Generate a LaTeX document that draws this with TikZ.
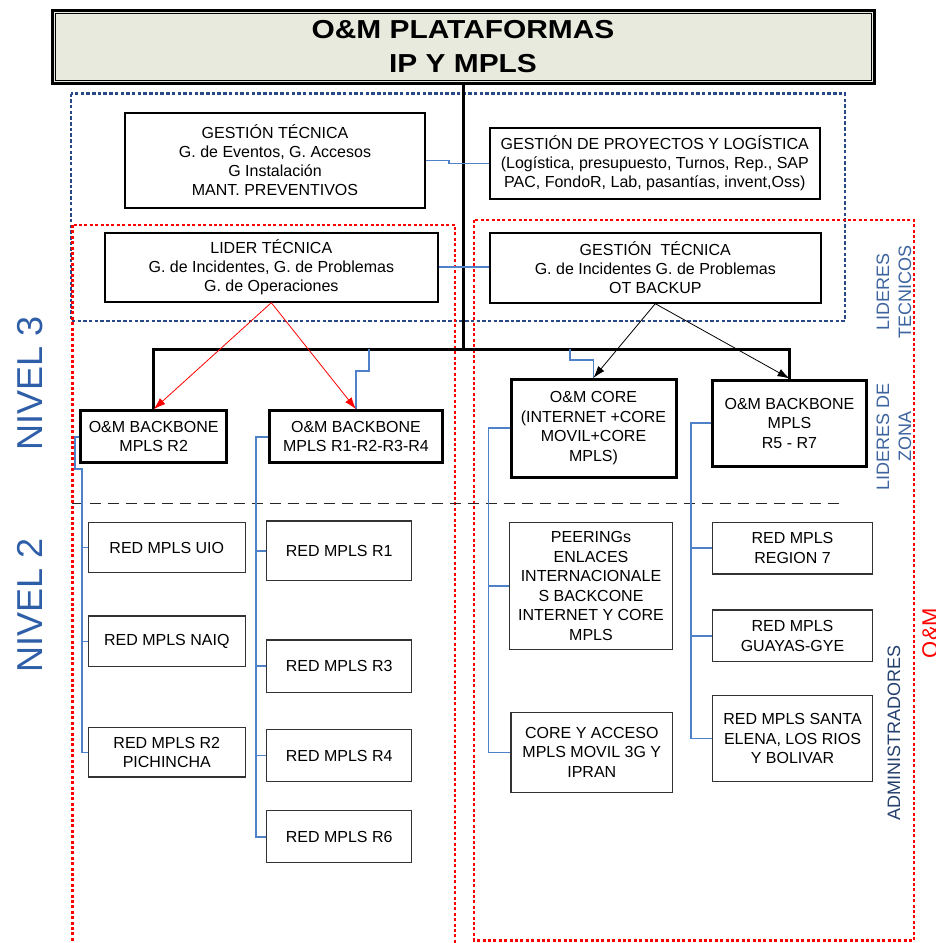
\documentclass[tikz,border=0pt]{standalone}
\usepackage{fontspec}
\setmainfont{Liberation Sans}
\newfontfamily\titlefont[FakeStretch=1.15]{Liberation Sans}
\usetikzlibrary{arrows.meta}

\definecolor{titlefill}{RGB}{233,234,222}
\definecolor{linkblue}{RGB}{79,129,200}
\definecolor{framenavy}{RGB}{40,72,135}
\definecolor{leafgray}{RGB}{50,50,50}
\definecolor{nivelblue}{RGB}{46,94,168}
\definecolor{liderblue}{RGB}{62,100,160}
\definecolor{adminblue}{RGB}{36,64,110}

\begin{document}
\begin{tikzpicture}[x=1pt,y=-1pt,
  box/.style={draw, fill=white, align=center, inner sep=0pt,
    font=\fontsize{16}{19.5}\selectfont},
  mgmt/.style={box, line width=2pt, font=\fontsize{16}{19}\selectfont},
  zonebox/.style={box, line width=3pt},
  leaf/.style={box, draw=leafgray, line width=1.4pt},
  blueline/.style={draw=linkblue, line width=1.6pt},
  busline/.style={draw=black, line width=3pt},
  redarrow/.style={draw=red, line width=0.8pt, -{Latex[length=12pt,width=8pt]}},
  blkarrow/.style={draw=black, line width=0.8pt, -{Latex[length=12pt,width=8pt]}},
  reddots/.style={draw=red, line width=2.8pt, dash pattern=on 3pt off 2.4pt},
  bluedots/.style={draw=framenavy, line width=2.4pt, dash pattern=on 3.5pt off 2.2pt},
  levelsep/.style={draw=black!85, line width=1.5pt, dash pattern=on 11pt off 7pt},
  sidelabel/.style={rotate=90, align=center, font=\fontsize{18}{22}\selectfont}
]
\useasboundingbox (0,0) rectangle (936,943);

% ---- group frames ----
\draw[bluedots] (71,93.5) rectangle (845,320.7);
\draw[reddots] (72.5,225) rectangle (455,965);
\draw[reddots] (474,220) rectangle (914,940.5);

% ---- title ----
\node[box, fill=titlefill, line width=3pt, minimum width=822pt, minimum height=73pt,
      font=\titlefont\bfseries\fontsize{26}{34}\selectfont] (title) at (463,47)
  {O\&M PLATAFORMAS\\IP Y MPLS};
\draw[line width=1pt] ([shift={(4.5,4.5)}]title.north west) rectangle ([shift={(-4.5,-4.5)}]title.south east);

% ---- management boxes ----
\node[mgmt, minimum width=300pt, minimum height=95.6pt] (gt1) at (275,160.5)
  {GESTIÓN TÉCNICA\\G. de Eventos, G. Accesos\\G Instalación\\MANT. PREVENTIVOS};
\node[mgmt, minimum width=330.4pt, minimum height=71.3pt, font=\fontsize{16}{18.7}\selectfont] (gpl) at (654.8,163.4)
  {GESTIÓN DE PROYECTOS Y LOGÍSTICA\\(Logística, presupuesto, Turnos, Rep., SAP\\PAC, FondoR, Lab, pasantías, invent,Oss)};
\node[mgmt, minimum width=332.5pt, minimum height=69pt] (lider) at (271.3,267.2)
  {LIDER TÉCNICA\\G. de Incidentes, G. de Problemas\\G. de Operaciones};
\node[mgmt, minimum width=331.4pt, minimum height=70pt] (gt2) at (655.3,267.7)
  {GESTIÓN~ TÉCNICA\\G. de Incidentes G. de Problemas\\OT BACKUP};

% ---- zone leaders ----
\node[zonebox, minimum width=146pt, minimum height=52pt] (bb2) at (153.7,436.7)
  {O\&M BACKBONE\\MPLS R2};
\node[zonebox, minimum width=173.4pt, minimum height=52pt] (bb14) at (356,436.7)
  {O\&M BACKBONE\\MPLS R1-R2-R3-R4};
\node[zonebox, minimum width=165pt, minimum height=97.7pt] (core) at (593.5,428.2)
  {O\&M CORE\\(INTERNET +CORE\\MOVIL+CORE\\MPLS)};
\node[zonebox, minimum width=154.4pt, minimum height=86pt] (bb57) at (789.5,423)
  {O\&M BACKBONE\\MPLS\\R5 - R7};

% ---- administrators ----
\node[leaf, minimum width=157pt, minimum height=50.4pt] (uio) at (166.8,547.5) {RED MPLS UIO};
\node[leaf, minimum width=157pt, minimum height=50.7pt] (naiq) at (166.8,641.3) {RED MPLS NAIQ};
\node[leaf, minimum width=157pt, minimum height=49.3pt] (pich) at (166.8,752.3) {RED MPLS R2\\PICHINCHA};

\node[leaf, minimum width=145pt, minimum height=59.7pt] (r1) at (339.2,550.8) {RED MPLS R1};
\node[leaf, minimum width=145pt, minimum height=52.3pt] (r3) at (339.2,666.2) {RED MPLS R3};
\node[leaf, minimum width=145pt, minimum height=52.4pt] (r4) at (339.2,755.5) {RED MPLS R4};
\node[leaf, minimum width=145pt, minimum height=52pt] (r6) at (339.2,836.7) {RED MPLS R6};

\node[leaf, minimum width=163.4pt, minimum height=127pt] (peer) at (591,585.8)
  {PEERINGs\\ENLACES\\INTERNACIONALE\\S BACKCONE\\INTERNET Y CORE\\MPLS};
\node[leaf, minimum width=161.7pt, minimum height=79.8pt] (cya) at (591.8,752.4)
  {CORE Y ACCESO\\MPLS MOVIL 3G Y\\IPRAN};

\node[leaf, minimum width=160.4pt, minimum height=51.7pt] (reg7) at (792.5,548.2) {RED MPLS\\REGION 7};
\node[leaf, minimum width=160.4pt, minimum height=51.7pt] (guay) at (792.5,635.8) {RED MPLS\\GUAYAS-GYE};
\node[leaf, minimum width=160.4pt, minimum height=85.6pt] (santa) at (792.5,738.5)
  {RED MPLS SANTA\\ELENA, LOS RIOS\\Y BOLIVAR};

% ---- level separator ----
\coordinate (sepL) at (71.7,503.5);
\coordinate (sepR) at (840,503.5);
\draw[levelsep] (sepL) -- (sepR);

% ---- main bus ----
\coordinate (busY) at (0,349.3);
\draw[busline] (title.south) -- (title.south |- busY);
\draw[busline] (bb2.north) -- (bb2.north |- busY) -- (bb57.north |- busY) -- (bb57.north);

% ---- blue links ----
\draw[blueline] (gt1.east) -- ++(22.8,0) |- (gpl.west);
\draw[blueline] (lider.east) -- (lider.east -| gt2.west);

\coordinate (k1) at (368.7,370.7);
\draw[blueline] (bb14.north) |- (k1) -- (k1 |- busY);
\coordinate (k2) at (570,360);
\draw[blueline] (core.north) |- (k2) -- (k2 |- busY);

% left column spine (with small jog)
\coordinate (jA) at (75,469);
\coordinate (jB) at (81.7,469);
\draw[blueline] (bb2.west) -| (jA) -- (jB) |- (pich.west);
\draw[blueline] (jB |- uio.west) -- (uio.west);
\draw[blueline] (jB |- naiq.west) -- (naiq.west);

% R1..R6 spine
\coordinate (sB) at (256,0);
\draw[blueline] (bb14.west) -- (bb14.west -| sB) |- (r6.west);
\draw[blueline] (sB |- r1.west) -- (r1.west);
\draw[blueline] (sB |- r3.west) -- (r3.west);
\draw[blueline] (sB |- r4.west) -- (r4.west);

% core spine
\coordinate (sC) at (488.3,0);
\draw[blueline] (core.west) -- (core.west -| sC) |- (cya.west);
\draw[blueline] (sC |- peer.west) -- (peer.west);

% R5-R7 spine
\coordinate (sD) at (691,0);
\draw[blueline] (bb57.west) -- (bb57.west -| sD) |- (santa.west);
\draw[blueline] (sD |- reg7.west) -- (reg7.west);
\draw[blueline] (sD |- guay.west) -- (guay.west);

% ---- arrows ----
\draw[redarrow] (lider.south) -- (bb2.north);
\draw[redarrow] (lider.south) -- (bb14.north);
\draw[blkarrow] (gt2.south) -- (core.north);
\draw[blkarrow] (gt2.south) -- (bb57.north);

% ---- side labels ----
\node[rotate=90, text=nivelblue, font=\fontsize{36}{40}\selectfont] (niv3) at (30,383.3) {NIVEL 3};
\node[rotate=90, text=nivelblue, font=\fontsize{36}{40}\selectfont] (niv2) at (30,605.5) {NIVEL 2};
\node[sidelabel, text=liderblue] (lt) at (894,292) {LIDERES\\TECNICOS};
\node[sidelabel, text=liderblue] (lz) at (894,436.5) {LIDERES DE\\ZONA};
\node[sidelabel, text=adminblue] (adm) at (894,733.4) {ADMINISTRADORES};
\node[rotate=90, anchor=base, text=red, inner sep=0pt, font=\fontsize{22}{26}\selectfont] (om) at (937.5,633) {O\&M};
\end{tikzpicture}
\end{document}
